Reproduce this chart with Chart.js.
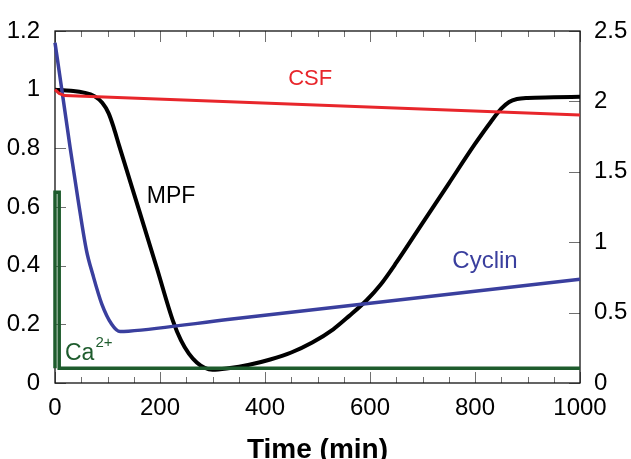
<!DOCTYPE html>
<html>
<head>
<meta charset="utf-8">
<script src="https://cdn.jsdelivr.net/npm/chart.js@4.4.1/dist/chart.umd.min.js"></script>
<style>
html,body{margin:0;padding:0;background:#fff;}
canvas{display:block;}
</style>
</head>
<body>
<canvas id="c" width="631" height="459"></canvas>
<script>
// ---- data ----
const xTickLabels = ['0', '200', '400', '600', '800', '1000'];
const leftTickLabels = ['0', '0.2', '0.4', '0.6', '0.8', '1', '1.2'];
const rightTickLabels = ['0', '0.5', '1', '1.5', '2', '2.5'];

const mpfTime = [0, 30, 55, 75, 90, 102, 112, 122, 137, 162, 194, 225, 240, 255, 270, 285, 300, 330, 370, 410, 450, 490, 530, 560, 594, 620, 650, 700, 750, 800, 830, 850, 865, 880, 900, 950, 1000];
const mpfValue = [1.0, 0.996, 0.99, 0.978, 0.955, 0.92, 0.87, 0.81, 0.723, 0.578, 0.392, 0.21, 0.145, 0.10, 0.07, 0.052, 0.045, 0.05, 0.062, 0.08, 0.104, 0.138, 0.183, 0.228, 0.283, 0.335, 0.41, 0.545, 0.68, 0.815, 0.89, 0.935, 0.958, 0.968, 0.972, 0.974, 0.976];

const csfTime = [0, 8, 18, 1000];
const csfValue = [1.0, 0.987, 0.98, 0.914];

const cyclinTime = [0, 13, 29, 44, 60, 72, 89, 108, 124, 140, 333, 600, 1000];
const cyclinValue = [2.417, 2.083, 1.667, 1.30, 0.94, 0.77, 0.5625, 0.417, 0.365, 0.368, 0.452, 0.567, 0.7375];

const caTime = [0, 0, 8, 8, 1000];
const caValue = [0.05, 0.65, 0.65, 0.05, 0.05];

function pts(ts, vs) { return ts.map((t, i) => ({ x: t, y: vs[i] })); }

const FONT = '"Liberation Sans", Arial, Helvetica, sans-serif';
const RED = '#e8262b', BLUE = '#3a3f9e', GREEN = '#1e5c2d', BLACK = '#000000';

// inward ticks, frame and curve labels
const framePlugin = {
  id: 'frame',
  beforeDatasetsDraw(chart) {
    const { ctx, chartArea: a, scales } = chart;
    ctx.save();
    ctx.strokeStyle = '#707070';
    ctx.lineWidth = 1;
    ctx.beginPath();
    for (let t = 0; t <= 1000; t += 50) {
      const px = Math.round(scales.x.getPixelForValue(t)) + 0.5;
      const len = (t % 200 === 0) ? 11 : 6;
      ctx.moveTo(px, a.bottom); ctx.lineTo(px, a.bottom - len);
      ctx.moveTo(px, a.top); ctx.lineTo(px, a.top + len);
    }
    for (let i = 0; i < leftTickLabels.length; i++) {
      const py = Math.round(scales.y.getPixelForValue(i * 0.2)) + 0.5;
      ctx.moveTo(a.left, py); ctx.lineTo(a.left + 11, py);
    }
    for (let i = 0; i < rightTickLabels.length; i++) {
      const py = Math.round(scales.y2.getPixelForValue(i * 0.5)) + 0.5;
      ctx.moveTo(a.right, py); ctx.lineTo(a.right - 11, py);
    }
    ctx.stroke();
    ctx.strokeStyle = '#111';
    ctx.lineWidth = 1.3;
    ctx.strokeRect(a.left, a.top, a.right - a.left, a.bottom - a.top);
    ctx.restore();
  },
  afterDatasetsDraw(chart) {
    const { ctx, scales } = chart;
    const X = v => scales.x.getPixelForValue(v);
    const Y = v => scales.y.getPixelForValue(v);
    ctx.save();
    ctx.textBaseline = 'middle';
    ctx.textAlign = 'center';
    ctx.fillStyle = RED;
    ctx.font = '22px ' + FONT;
    ctx.fillText('CSF', X(486), Y(1.036));
    ctx.fillStyle = BLACK;
    ctx.font = '23px ' + FONT;
    ctx.fillText('MPF', X(221), Y(0.634));
    ctx.fillStyle = BLUE;
    ctx.font = '24px ' + FONT;
    ctx.fillText('Cyclin', X(819), Y(0.416));
    ctx.fillStyle = GREEN;
    ctx.textAlign = 'left';
    ctx.textBaseline = 'alphabetic';
    ctx.font = '23px ' + FONT;
    const cx = X(19), cy = Y(0.078);
    ctx.fillText('Ca', cx, cy);
    const w = ctx.measureText('Ca').width;
    ctx.font = '15px ' + FONT;
    ctx.fillText('2+', cx + w + 1, cy - 13);
    ctx.restore();
  }
};

new Chart(document.getElementById('c'), {
  type: 'line',
  data: {
    datasets: [
      { label: 'Ca2+', data: pts(caTime, caValue), yAxisID: 'y', borderColor: GREEN, borderWidth: 3.5, tension: 0, pointRadius: 0, fill: false, clip: 6 },
      { label: 'CSF', data: pts(csfTime, csfValue), yAxisID: 'y', borderColor: RED, borderWidth: 3, tension: 0, pointRadius: 0, fill: false, clip: 6 },
      { label: 'Cyclin', data: pts(cyclinTime, cyclinValue), yAxisID: 'y2', borderColor: BLUE, borderWidth: 3.5, cubicInterpolationMode: 'monotone', pointRadius: 0, fill: false, clip: 6 },
      { label: 'MPF', data: pts(mpfTime, mpfValue), yAxisID: 'y', borderColor: BLACK, borderWidth: 4, cubicInterpolationMode: 'monotone', pointRadius: 0, fill: false, clip: 6 }
    ]
  },
  options: {
    responsive: false,
    animation: false,
    devicePixelRatio: 1,
    layout: { padding: { top: 31, left: 0, right: 0, bottom: 0 } },
    plugins: { legend: { display: false }, tooltip: { enabled: false } },
    scales: {
      x: {
        type: 'linear', position: 'bottom', min: 0, max: 1000,
        grid: { display: false, drawTicks: false },
        border: { display: false },
        ticks: {
          stepSize: 200, autoSkip: false, maxRotation: 0, padding: 11,
          color: '#000', font: { family: FONT, size: 24 },
          callback: (v) => xTickLabels[Math.round(v / 200)]
        },
        title: {
          display: true, text: 'Time (min)', color: '#000',
          font: { family: FONT, size: 28, weight: 'bold', lineHeight: 1 },
          padding: { top: 0, bottom: -5 }
        },
        afterFit: (s) => { s.height = 76; }
      },
      y: {
        type: 'linear', position: 'left', min: 0, max: 1.2,
        grid: { display: false, drawTicks: false },
        border: { display: false },
        ticks: {
          stepSize: 0.2, autoSkip: false, padding: 15,
          color: '#000', font: { family: FONT, size: 24 },
          callback: (v) => leftTickLabels[Math.round(v / 0.2)]
        },
        afterFit: (s) => { s.width = 55; }
      },
      y2: {
        type: 'linear', position: 'right', min: 0, max: 2.5,
        grid: { display: false, drawTicks: false },
        border: { display: false },
        ticks: {
          stepSize: 0.5, autoSkip: false, padding: 14,
          color: '#000', font: { family: FONT, size: 24 },
          callback: (v) => rightTickLabels[Math.round(v / 0.5)]
        },
        afterFit: (s) => { s.width = 51; }
      }
    }
  },
  plugins: [framePlugin]
});
</script>
</body>
</html>
